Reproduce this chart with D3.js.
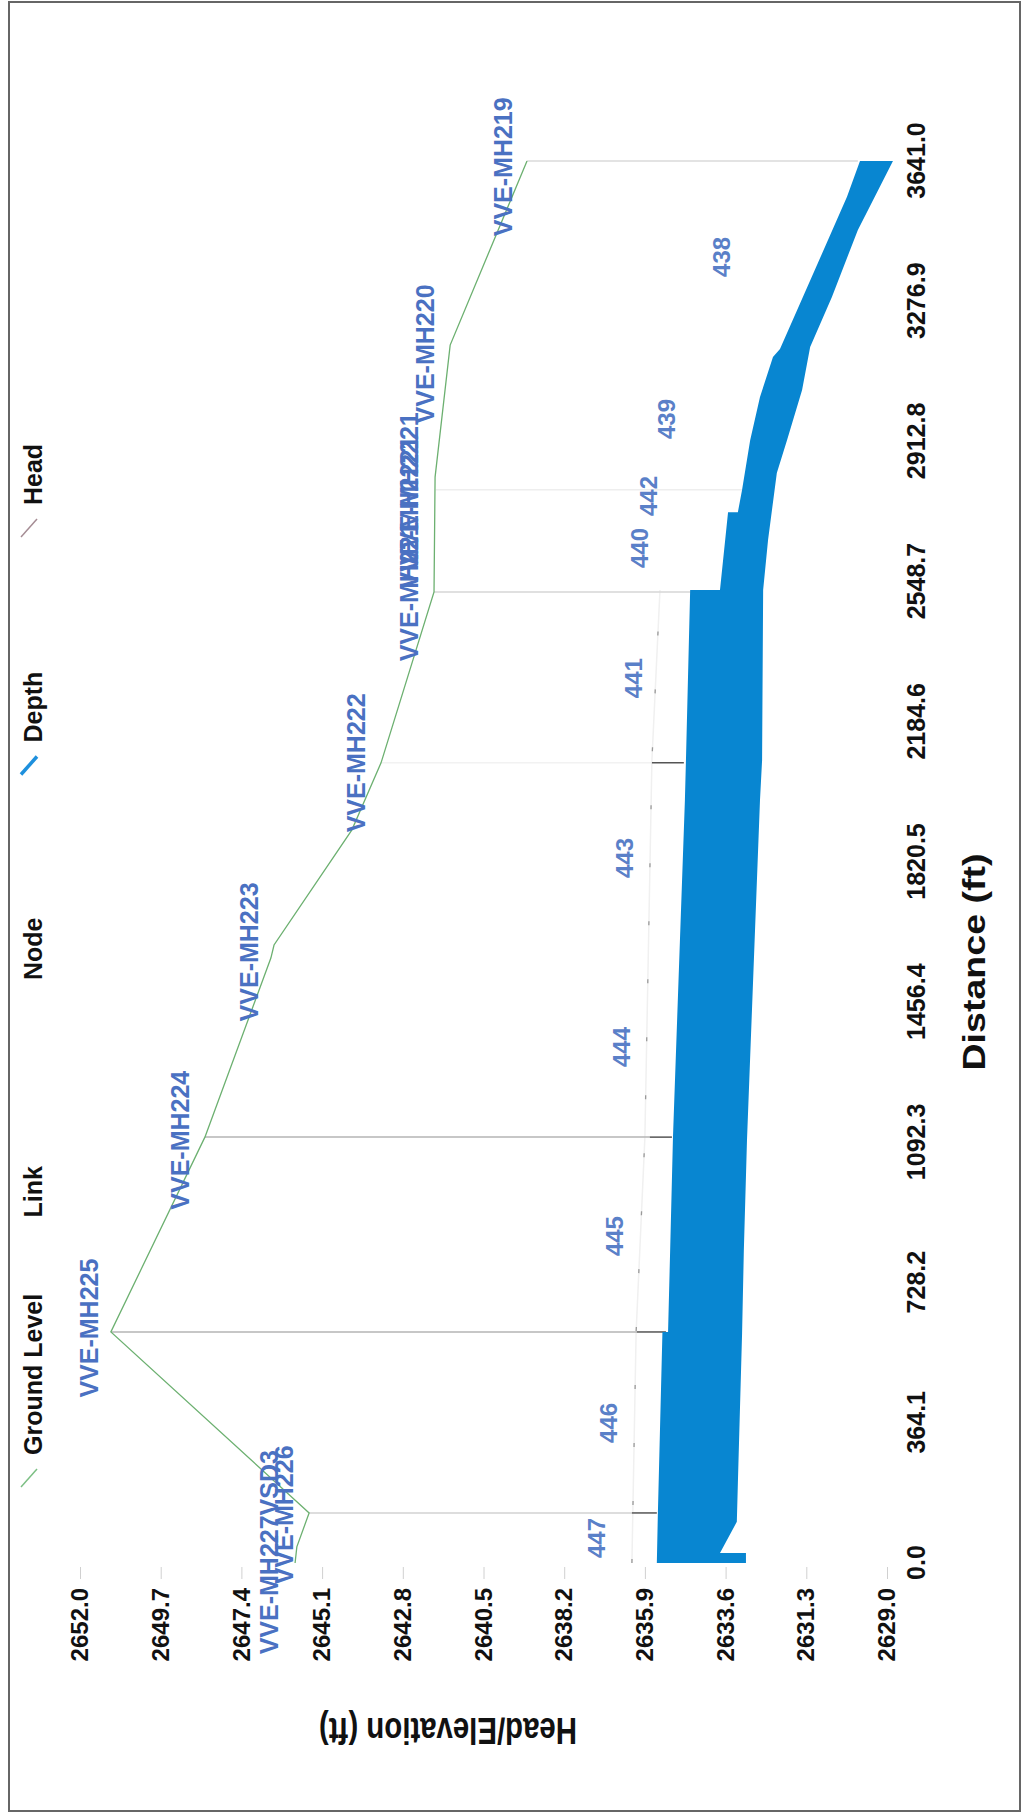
<!DOCTYPE html>
<html>
<head>
    <meta charset="utf-8">
    <title>Profile - Head/Elevation vs Distance</title>
    <script src="https://d3js.org/d3.v7.min.js"></script>
    <style>
        body { margin: 0; background: #fff; }
        svg text { font-family: "Liberation Sans", Arial, sans-serif; font-weight: bold; }
    </style>
</head>
<body>
    <div id="chart"></div>

    <script>
        // 轴刻度
        const distTicks = [0, 364.1, 728.2, 1092.3, 1456.4, 1820.5, 2184.6, 2548.7, 2912.8, 3276.9, 3641.0];
        const distTickLabels = ["0.0", "364.1", "728.2", "1092.3", "1456.4", "1820.5", "2184.6", "2548.7", "2912.8", "3276.9", "3641.0"];
        const elevTicks = [2652.0, 2649.7, 2647.4, 2645.1, 2642.8, 2640.5, 2638.2, 2635.9, 2633.6, 2631.3, 2629.0];
        const elevTickLabels = ["2652.0", "2649.7", "2647.4", "2645.1", "2642.8", "2640.5", "2638.2", "2635.9", "2633.6", "2631.3", "2629.0"];

        // 地面线 (Ground Level)
        const groundDist = [0, 42, 130, 600, 1106, 1571, 1605, 1904, 2078, 2522, 2820, 3163, 3641];
        const groundElev = [2645.87, 2645.82, 2645.47, 2651.12, 2648.44, 2646.56, 2646.47, 2644.25, 2643.42, 2641.91, 2641.88, 2641.45, 2639.26];

        // 水深带 (Depth) 上沿 / 下沿
        const topDist = [0, 130, 600, 600, 813, 1106, 1981, 2085, 2527, 2527, 2729, 2729, 2787, 2916, 3028, 3132, 3153, 3376, 3548, 3641];
        const topElev = [2635.56, 2635.53, 2635.40, 2635.24, 2635.18, 2635.10, 2634.76, 2634.73, 2634.61, 2633.76, 2633.53, 2633.25, 2633.13, 2632.90, 2632.62, 2632.25, 2632.05, 2630.97, 2630.14, 2629.77];
        const botDist = [0, 26, 26, 107, 208, 597, 813, 1099, 1981, 2085, 2527, 2657, 2831, 2916, 3046, 3158, 3288, 3462, 3641];
        const botElev = [2633.02, 2633.02, 2633.76, 2633.28, 2633.25, 2633.13, 2633.08, 2632.99, 2632.62, 2632.56, 2632.53, 2632.39, 2632.14, 2631.85, 2631.42, 2631.19, 2630.57, 2629.83, 2628.83];

        // 管顶虚线
        const crownDist = [0, 600, 1106, 2085, 2527];
        const crownElev = [2636.27, 2636.15, 2635.90, 2635.70, 2635.47];

        // 检查井竖线
        const mhDist = [130, 600, 1106, 2078, 2522, 2787, 3641];
        const mhTop = [2645.47, 2651.12, 2648.44, 2643.42, 2641.91, 2641.86, 2639.26];
        const mhCrown = [2636.27, 2636.13, 2635.76, 2635.70, 2633.76, 2633.13, 2629.83];
        const mhBottom = [2635.56, 2635.30, 2635.13, 2634.79, 2633.76, 2633.13, 2629.83];
        const mhShade = ["#d2d2d2", "#b4b4b4", "#b4b4b4", "#f2f2f2", "#d6d6d6", "#eeeeee", "#dadada"];

        // 节点标签
        const nodeNames = ["VVE-MH227VSD3", "VVE-MH226", "VVE-MH225", "VVE-MH224", "VVE-MH223", "VVE-MH222",
                           "VVE-MH221", "VVE-MH2221", "VVE-MH2221", "VVE-MH220", "VVE-MH219"];
        const nodeLabelDist = [28, 125, 610, 1098, 1587, 2078, 2522, 2729, 2790, 3140, 3626];
        const nodeLabelElev = [2646.36, 2645.93, 2651.49, 2648.89, 2646.93, 2643.88, 2642.37, 2642.37, 2642.37, 2641.91, 2639.69];

        // 管段标签
        const linkNames = ["447", "446", "445", "444", "443", "441", "440", "442", "439", "438"];
        const linkLabelDist = [65, 364, 849, 1340, 1831, 2298, 2636, 2771, 2971, 3392];
        const linkLabelElev = [2637.04, 2636.70, 2636.52, 2636.32, 2636.24, 2635.98, 2635.81, 2635.56, 2635.04, 2633.47];

        // 图例
        const legendNames = ["Ground Level", "Link", "Node", "Depth", "Head"];

        const width = 1023;
        const height = 1813;

        const svg = d3.select("#chart")
            .append("svg")
            .attr("width", width)
            .attr("height", height);

        svg.append("rect")
            .attr("width", width).attr("height", height)
            .attr("fill", "#fff");

        // 外框
        svg.append("rect")
            .attr("x", 9).attr("y", 2)
            .attr("width", 1011).attr("height", 1809)
            .attr("fill", "none")
            .attr("stroke", "#666")
            .attr("stroke-width", 2);

        // 整张图逆时针旋转90度 (扫描件是横放的)
        const g = svg.append("g")
            .attr("transform", `translate(0,${height}) rotate(-90)`);

        const x = d3.scaleLinear().domain([0, 3641]).range([250, 1652]);
        const y = d3.scaleLinear().domain([2629, 2652]).range([887, 80]);

        // 距离轴
        const xAxis = g.append("g")
            .attr("transform", "translate(0,887)")
            .call(d3.axisBottom(x)
                .tickValues(distTicks)
                .tickFormat((d, i) => distTickLabels[i])
                .tickSize(0)
                .tickPadding(20));
        xAxis.select(".domain").remove();
        xAxis.selectAll("text")
            .style("font-size", "25px")
            .attr("fill", "#111");

        // 高程轴
        const yAxis = g.append("g")
            .attr("transform", "translate(246,0)")
            .call(d3.axisLeft(y)
                .tickValues(elevTicks)
                .tickFormat((d, i) => elevTickLabels[i])
                .tickSize(12)
                .tickPadding(9));
        yAxis.select(".domain").remove();
        yAxis.selectAll("line").attr("stroke", "#d0d0d0");
        yAxis.selectAll("text")
            .style("font-size", "24px")
            .attr("fill", "#111");

        // 轴标题
        g.append("text")
            .attr("x", 851).attr("y", 985)
            .attr("text-anchor", "middle")
            .attr("textLength", 217)
            .attr("lengthAdjust", "spacingAndGlyphs")
            .style("font-size", "32px")
            .attr("fill", "#111")
            .text("Distance (ft)");

        g.append("text")
            .attr("transform", "translate(95,448) rotate(-90)")
            .attr("text-anchor", "middle")
            .attr("textLength", 258)
            .attr("lengthAdjust", "spacingAndGlyphs")
            .style("font-size", "37px")
            .attr("fill", "#111")
            .text("Head/Elevation (ft)");

        // 管顶虚线
        const crownPts = crownDist.map((d, i) => [x(d), y(crownElev[i])]);
        const line = d3.line();
        g.append("path")
            .attr("d", line(crownPts))
            .attr("fill", "none")
            .attr("stroke", "#f0f0f0")
            .attr("stroke-width", 1.5);
        g.append("path")
            .attr("d", line(crownPts))
            .attr("fill", "none")
            .attr("stroke", "#999")
            .attr("stroke-width", 1.3)
            .attr("stroke-dasharray", "4,54");

        // 检查井竖线
        g.append("g").selectAll("line")
            .data(mhDist)
            .enter().append("line")
            .attr("x1", d => x(d)).attr("x2", d => x(d))
            .attr("y1", (d, i) => y(mhTop[i]))
            .attr("y2", (d, i) => y(mhCrown[i]))
            .attr("stroke", (d, i) => mhShade[i])
            .attr("stroke-width", 1.5);
        g.append("g").selectAll("line")
            .data(mhDist)
            .enter().append("line")
            .attr("x1", d => x(d)).attr("x2", d => x(d))
            .attr("y1", (d, i) => y(mhCrown[i]))
            .attr("y2", (d, i) => y(mhBottom[i]))
            .attr("stroke", "#555")
            .attr("stroke-width", 1.5);

        // 水深带
        const bandPts = topDist.map((d, i) => [x(d), y(topElev[i])])
            .concat(botDist.map((d, i) => [x(d), y(botElev[i])]).reverse());
        g.append("path")
            .attr("d", d3.line()(bandPts) + "Z")
            .attr("fill", "#0886d1");

        // 地面线
        g.append("path")
            .attr("d", line(groundDist.map((d, i) => [x(d), y(groundElev[i])])))
            .attr("fill", "none")
            .attr("stroke", "#6cb070")
            .attr("stroke-width", 1.3);

        // 节点标签
        g.append("g").selectAll("text")
            .data(nodeNames)
            .enter().append("text")
            .attr("x", (d, i) => x(nodeLabelDist[i]))
            .attr("y", (d, i) => y(nodeLabelElev[i]))
            .attr("text-anchor", "middle")
            .style("font-size", "25px")
            .attr("fill", "#4a71c2")
            .text(d => d);

        // 管段标签
        g.append("g").selectAll("text")
            .data(linkNames)
            .enter().append("text")
            .attr("x", (d, i) => x(linkLabelDist[i]))
            .attr("y", (d, i) => y(linkLabelElev[i]))
            .attr("text-anchor", "middle")
            .style("font-size", "24px")
            .attr("fill", "#5a80c8")
            .text(d => d);

        // 图例
        const legendColor = ["#7cbf84", "none", "none", "#1e90dd", "#a58c94"];
        const legendWidth = [1.5, 0, 0, 3.5, 1.5];
        const legend = g.append("g").attr("class", "legend");
        legendNames.forEach((name, i) => {
            const lx = 326 + i * 237.5;
            const row = legend.append("g").attr("transform", `translate(${lx},0)`);
            if (legendColor[i] !== "none") {
                row.append("line")
                    .attr("x1", 0).attr("y1", 21)
                    .attr("x2", 18).attr("y2", 37)
                    .attr("stroke", legendColor[i])
                    .attr("stroke-width", legendWidth[i]);
            }
            row.append("text")
                .attr("x", 32).attr("y", 42)
                .style("font-size", "25px")
                .attr("fill", "#111")
                .text(name);
        });
    </script>
</body>
</html>
